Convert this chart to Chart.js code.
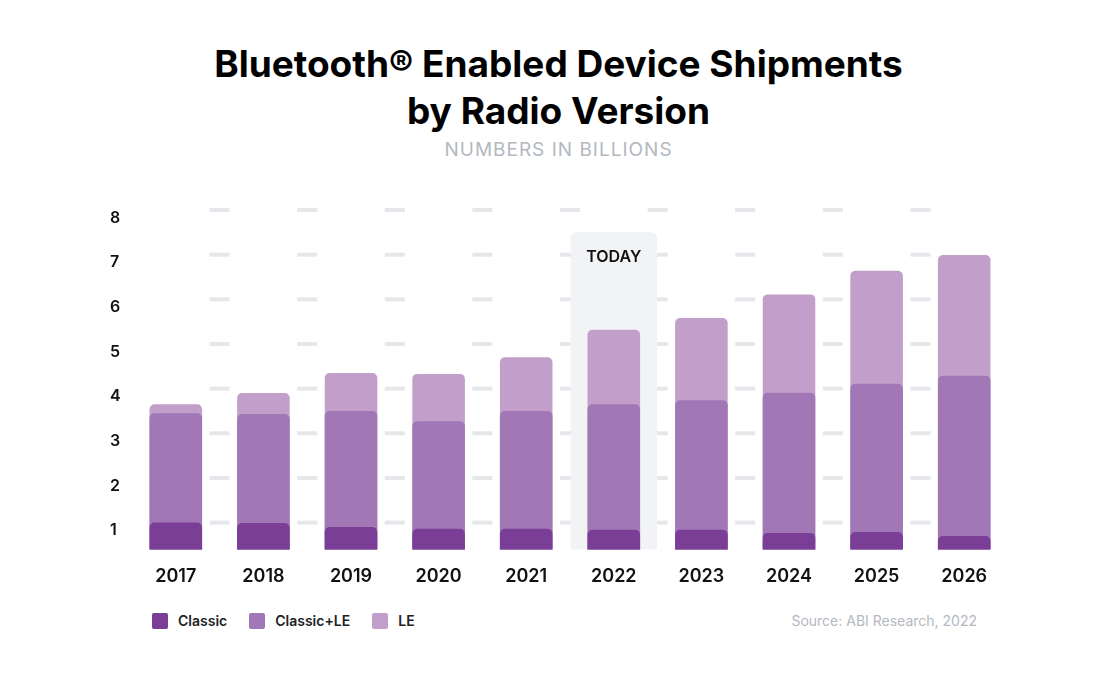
<!DOCTYPE html>
<html><head><meta charset="utf-8">
<script src="https://cdn.jsdelivr.net/npm/chart.js@4"></script>
<style>
body{margin:0;width:1117px;height:688px;background:#fff;font-family:Inter,"Noto Sans",sans-serif;position:relative;overflow:hidden}
#t{position:absolute;top:40px;left:0;width:1117px;text-align:center;font-size:37px;font-weight:700;line-height:47px;color:#000}
#s{position:absolute;top:138px;left:0;width:1117px;text-align:center;font-size:19px;letter-spacing:1px;color:#b4b8bf}
#wrap{position:absolute;left:110px;top:195px;width:900px;height:400px}
#leg{position:absolute;top:612px;left:152px;font-size:14px;font-weight:600;color:#222;display:flex;gap:0}
#leg span{display:inline-flex;align-items:center;margin-right:22px}
#leg i{display:inline-block;width:16px;height:16px;border-radius:2px;margin-right:10px}
#src{position:absolute;top:612px;right:140px;font-size:14px;color:#b4b8bf}
</style></head><body>
<div id="t">Bluetooth® Enabled Device Shipments<br>by Radio Version</div>
<div id="s">NUMBERS IN BILLIONS</div>
<div id="wrap"><canvas id="c"></canvas></div>
<div id="leg"><span><i style="background:#7a3e97"></i>Classic</span><span><i style="background:#a177b5"></i>Classic+LE</span><span><i style="background:#c29eca"></i>LE</span></div>
<div id="src">Source: ABI Research, 2022</div>
<script>
const years = ['2017','2018','2019','2020','2021','2022','2023','2024','2025','2026'];
const classic = [1.0,0.99,0.9,0.86,0.86,0.84,0.84,0.77,0.79,0.7];
const classicLE = [3.45,3.43,3.5,3.27,3.5,3.65,3.74,3.91,4.11,4.29];
const le = [3.65,3.9,4.35,4.33,4.7,5.32,5.58,6.11,6.64,6.99];
const yTicks = [1,2,3,4,5,6,7,8];
const todayYear = '2022';

const deco = {
  id:'deco',
  beforeDatasetsDraw(ch){
    const {ctx, chartArea:a, scales:{x,y}} = ch;
    ctx.save();
    // dashes between categories
    ctx.fillStyle = '#e6e7ea';
    for(const v of yTicks){
      const py = y.getPixelForValue(v);
      for(let i=0;i<years.length-1;i++){
        const mx = (x.getPixelForValue(i)+x.getPixelForValue(i+1))/2;
        ctx.fillRect(mx-10, py-2, 20, 4);
      }
    }
    // today box
    const i = years.indexOf(todayYear);
    const w = (x.getPixelForValue(1)-x.getPixelForValue(0));
    const cx = x.getPixelForValue(i);
    const top = y.getPixelForValue(7.5);
    ctx.fillStyle = '#f2f3f5';
    ctx.beginPath();
    ctx.roundRect(cx-w/2+0.5, top, w-1, a.bottom-top, [6,6,0,0]);
    ctx.fill();
    ctx.fillStyle = '#111';
    ctx.font = '600 16px Inter';
    ctx.textAlign = 'center';
    ctx.fillText('TODAY', cx, top+30);
    ctx.restore();
  }
};

const rad = {topLeft:5, topRight:5, bottomLeft:0, bottomRight:0};
new Chart(document.getElementById('c'), {
  type:'bar',
  data:{labels:years, datasets:[
    {label:'Classic', data:classic, backgroundColor:'#7a3e97', borderRadius:rad, borderSkipped:false},
    {label:'Classic+LE', data:classicLE, backgroundColor:'#a177b5', borderRadius:rad, borderSkipped:false},
    {label:'LE', data:le, backgroundColor:'#c29eca', borderRadius:rad, borderSkipped:false}
  ]},
  options:{
    responsive:true, maintainAspectRatio:false, animation:false,
    layout:{padding:{top:15,right:2}},
    plugins:{legend:{display:false}, tooltip:{enabled:false}},
    scales:{
      x:{stacked:true, grid:{display:false}, border:{display:false},
        ticks:{color:'#111', font:{family:'Inter', size:18, weight:'600'}, padding:8}},
      y:{stacked:false, min:0.4, max:8, grid:{display:false}, border:{display:false},
        afterBuildTicks(s){ s.ticks = yTicks.map(v=>({value:v})); },
        afterFit(s){ s.width = 22; },
        ticks:{color:'#111', align:'start', crossAlign:'far', padding:0, font:{family:'Inter', size:16, weight:'600'}}}
    },
    datasets:{bar:{categoryPercentage:1, barPercentage:0.6}}
  },
  plugins:[deco]
});
</script>
</body></html>
